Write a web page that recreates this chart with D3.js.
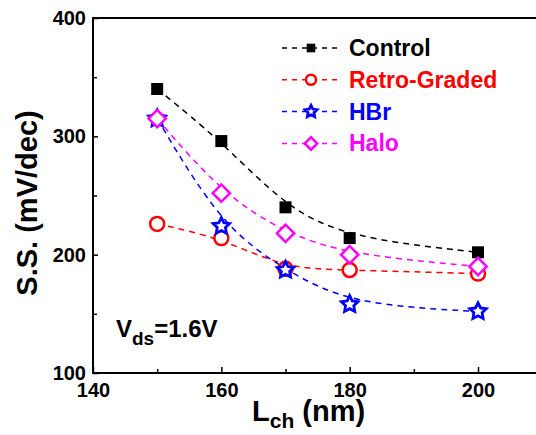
<!DOCTYPE html>
<html>
<head>
<meta charset="utf-8">
<script src="https://cdn.jsdelivr.net/npm/d3@7"></script>
<style>
  body { margin: 0; background: #fff; }
  svg { display: block; font-family: "Liberation Sans", Arial, sans-serif; font-weight: bold; }
</style>
</head>
<body>
<script>
const LENGTHS = [150, 160, 170, 180, 200];
const CONTROL = [340, 296, 240, 214, 202];
const RETRO_GRADED = [226, 214, 188, 187, 184];
const HBR = [315, 224, 187, 158, 152];
const HALO = [315, 252, 218, 200, 190];

const X_MAJOR = [140, 160, 180, 200];
const X_MINOR = [150, 170, 190];
const Y_MAJOR = [100, 200, 300, 400];
const Y_MINOR = [150, 250, 350];

const SERIES = [
    { name: "Control", values: CONTROL, color: "#000000", symbol: "square" },
    { name: "Retro-Graded", values: RETRO_GRADED, color: "#ff0000", symbol: "circle" },
    { name: "HBr", values: HBR, color: "#0000ff", symbol: "star" },
    { name: "Halo", values: HALO, color: "#ff00ff", symbol: "diamond" }
];

const width = 536, height = 435;
const plotLeft = 93, plotTop = 18, plotBottom = 373;

const svg = d3.select("body").append("svg")
    .attr("width", width)
    .attr("height", height);

const x = d3.scaleLinear().domain([140, 210]).range([plotLeft, plotLeft + 6.417 * 70]);
const y = d3.scaleLinear().domain([100, 400]).range([plotBottom, plotTop]);

// fatter five point star, like the plotting program's one
const fatStar = {
    draw: (context, size) => {
        const R = Math.sqrt(size) / 2, r = R * 0.5;
        for (let k = 0; k < 10; k++) {
            const a = -Math.PI / 2 + k * Math.PI / 5;
            const rad = k % 2 ? r : R;
            if (k === 0) context.moveTo(rad * Math.cos(a), rad * Math.sin(a));
            else context.lineTo(rad * Math.cos(a), rad * Math.sin(a));
        }
        context.closePath();
    }
};

// marker drawing
const drawMarker = (g, symbol, color, scale) => {
    if (symbol === "square") {
        g.append("path")
            .attr("d", d3.symbol(d3.symbolSquare, 144 * scale * scale)())
            .attr("fill", color);
    } else if (symbol === "circle") {
        g.append("circle")
            .attr("r", 7 * scale)
            .attr("fill", "white")
            .attr("stroke", color)
            .attr("stroke-width", 2.5);
    } else if (symbol === "star") {
        g.append("path")
            .attr("d", d3.symbol(fatStar, 300 * scale * scale)())
            .attr("fill", "white")
            .attr("stroke", color)
            .attr("stroke-width", 2.8)
            .attr("stroke-linejoin", "miter");
    } else {
        g.append("path")
            .attr("d", d3.symbol(d3.symbolSquare, 150 * scale * scale)())
            .attr("transform", "rotate(45)")
            .attr("fill", "white")
            .attr("stroke", color)
            .attr("stroke-width", 2.5);
    }
};

// curves
const line = d3.line()
    .x((d, i) => x(LENGTHS[i]))
    .y(d => y(d))
    .curve(d3.curveBasis);

SERIES.forEach(s => {
    svg.append("path")
        .attr("d", line(s.values))
        .attr("fill", "none")
        .attr("stroke", s.color)
        .attr("stroke-width", 1.5)
        .attr("stroke-dasharray", "6,5");
});

SERIES.forEach(s => {
    s.values.forEach((v, i) => {
        const g = svg.append("g")
            .attr("transform", `translate(${x(LENGTHS[i])},${y(v)})`);
        drawMarker(g, s.symbol, s.color, 1);
    });
});

// axes
svg.append("g")
    .attr("transform", `translate(0,${plotBottom})`)
    .call(d3.axisBottom(x).tickValues(X_MAJOR).tickSize(-6).tickPadding(10).tickFormat(d3.format("d")));
svg.append("g")
    .attr("transform", `translate(0,${plotBottom})`)
    .call(d3.axisBottom(x).tickValues(X_MINOR).tickSize(-4).tickFormat(""));

svg.append("g")
    .attr("transform", `translate(${plotLeft},0)`)
    .call(d3.axisLeft(y).tickValues(Y_MAJOR).tickSize(-5).tickPadding(7).tickFormat(d3.format("d")));
svg.append("g")
    .attr("transform", `translate(${plotLeft},0)`)
    .call(d3.axisLeft(y).tickValues(Y_MINOR).tickSize(-4).tickFormat(""));

svg.selectAll(".domain").remove();
svg.selectAll(".tick line").attr("stroke", "#000").attr("stroke-width", 1.5);
svg.selectAll(".tick text")
    .attr("font-size", 20)
    .attr("font-weight", "bold")
    .attr("font-family", "'Liberation Sans', Arial, sans-serif")
    .attr("fill", "#000");

// frame
svg.append("path")
    .attr("d", `M${width},${plotTop}H${plotLeft}V${plotBottom}H${width}`)
    .attr("fill", "none")
    .attr("stroke", "#000")
    .attr("stroke-width", 2);

// axis titles
svg.append("text")
    .attr("transform", `translate(37,203) rotate(-90)`)
    .attr("text-anchor", "middle")
    .attr("font-size", 29)
    .text("S.S. (mV/dec)");

const xt = svg.append("text")
    .attr("x", 252)
    .attr("y", 421)
    .attr("font-size", 29);
xt.append("tspan").text("L");
xt.append("tspan").attr("font-size", 21).attr("dy", 7).text("ch");
xt.append("tspan").attr("dy", -7).text(" (nm)");

// annotation
const ann = svg.append("text")
    .attr("x", 116)
    .attr("y", 337)
    .attr("font-size", 24);
ann.append("tspan").text("V");
ann.append("tspan").attr("font-size", 19).attr("dy", 8).text("ds");
ann.append("tspan").attr("dy", -8).text("=1.6V");

// legend
const legend = svg.append("g");
SERIES.forEach((s, i) => {
    const cy = 48 + i * 31.8;
    const row = legend.append("g").attr("transform", `translate(0,${cy})`);
    row.append("line")
        .attr("x1", 282).attr("x2", 341)
        .attr("stroke", s.color)
        .attr("stroke-width", 1.5)
        .attr("stroke-dasharray", "5,5");
    const m = row.append("g").attr("transform", "translate(311,0)");
    drawMarker(m, s.symbol, s.color, 0.72);
    row.append("text")
        .attr("x", 349)
        .attr("y", 8)
        .attr("font-size", 23)
        .attr("fill", s.color)
        .text(s.name);
});
</script>
</body>
</html>
